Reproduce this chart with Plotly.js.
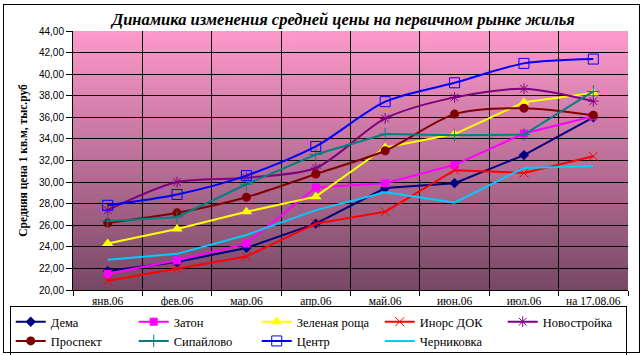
<!DOCTYPE html>
<html>
<head>
<meta charset="utf-8">
<script src="https://cdn.plot.ly/plotly-3.0.1.min.js"></script>
<style>
html,body{margin:0;padding:0;background:#fff;}
#wrap{position:relative;width:643px;height:355px;}
#chart{width:643px;height:355px;}
#frame{position:absolute;left:3px;top:4px;width:637px;height:349px;border:1px solid #000;pointer-events:none;box-sizing:border-box;}
</style>
</head>
<body>
<div id="wrap"><div id="chart"></div><div id="frame"></div></div>
<script>
const categories = ['янв.06','фев.06','мар.06','апр.06','май.06','июн.06','июл.06','на 17.08.06'];
const dema        = [21.75, 22.6, 23.9, 26.15, 29.45, 29.9, 32.5, 36.0];
const zaton       = [21.5, 22.75, 24.3, 29.5, 29.9, 31.6, 34.5, 36.1];
const zelRoscha   = [24.3, 25.65, 27.25, 28.65, 33.2, 34.45, 37.4, 38.25];
const inorsDok    = [20.85, 21.95, 23.1, 26.15, 27.25, 31.1, 30.85, 32.4];
const novostroyka = [27.4, 30.0, 30.4, 31.3, 35.9, 37.85, 38.65, 37.5];
const prospekt    = [26.2, 27.15, 28.6, 30.75, 32.9, 36.3, 36.85, 36.2];
const sipaylovo   = [26.4, 26.75, 29.8, 32.55, 34.45, 34.35, 34.4, 38.4];
const centr       = [27.85, 28.85, 30.6, 33.3, 37.45, 39.2, 41.0, 41.4];
const chernikovka = [22.8, 23.35, 25.1, 27.4, 29.05, 28.1, 31.3, 31.5];
const yTicks = [20,22,24,26,28,30,32,34,36,38,40,42,44];

function tr(name, y, color, sym, size, open, spline){
  const t = {x: categories, y: y, name: name, type:'scatter',
    mode: sym ? 'lines+markers' : 'lines',
    line:{color: color, width: 2, shape: spline ? 'spline' : 'linear', smoothing: 0.8}};
  if (sym) {
    t.marker = open ? {symbol: sym, size: size, color: color, line:{color: color, width: 1}}
                    : {symbol: sym, size: size, color: color, line:{width:0}};
  }
  return t;
}

const traces = [
  tr('Дема', dema, '#000080', 'diamond', 8, false, false),
  tr('Затон', zaton, '#FF00FF', 'square', 8, false, false),
  tr('Зеленая роща', zelRoscha, '#FFFF00', 'triangle-up', 10, false, false),
  tr('Инорс ДОК', inorsDok, '#FF0000', 'x-thin-open', 9, true, false),
  tr('Новостройка', novostroyka, '#800080', 'asterisk-open', 9, true, true),
  tr('Проспект', prospekt, '#800000', 'circle', 9, false, true),
  tr('Сипайлово', sipaylovo, '#008080', 'cross-thin-open', 9, true, false),
  tr('Центр', centr, '#0000FF', 'square-open', 10, true, true),
  tr('Черниковка', chernikovka, '#00CCFF', null, 0, false, false)
];

// gradient background image
const cv = document.createElement('canvas');
cv.width = 4; cv.height = 260;
const ctx = cv.getContext('2d');
const g = ctx.createLinearGradient(0,0,0,260);
g.addColorStop(0,'#ff99cc');
g.addColorStop(1,'#774866');
ctx.fillStyle = g; ctx.fillRect(0,0,4,260);
const bgURL = cv.toDataURL('image/png');

const layout = {
  width: 643, height: 355,
  margin: {l:73, r:15, t:31, b:65, autoexpand: false},
  paper_bgcolor: 'rgba(0,0,0,0)',
  plot_bgcolor: 'rgba(0,0,0,0)',
  separators: ', ',
  showlegend: true,
  title: {text: 'Динамика изменения средней цены на первичном рынке жилья',
    font: {family: 'Liberation Serif', size: 16.5, color: '#000', weight: 'bold', style: 'italic'},
    x: 0.534, xanchor: 'center', y: 0.945, yanchor: 'middle', yref: 'container'},
  xaxis: {
    type: 'category', range: [-0.5, 7.5], tickson: 'boundaries',
    showgrid: true, gridcolor: '#000', gridwidth: 1,
    showline: true, linecolor: '#000', linewidth: 1,
    ticks: 'outside', ticklen: 5, tickcolor: '#000',
    tickfont: {family: 'Liberation Serif', size: 11.5, color: '#000'},
    zeroline: false, fixedrange: true
  },
  yaxis: {
    range: [20, 44], tickvals: yTicks, tickformat: '.2f',
    showgrid: true, gridcolor: '#000', gridwidth: 1,
    showline: true, linecolor: '#000', linewidth: 1,
    ticks: 'outside', ticklen: 6, tickcolor: '#000',
    tickfont: {family: 'Liberation Sans', size: 10, color: '#000'},
    zeroline: false,
    title: {text: 'Средняя цена 1 кв.м, тыс.руб', standoff: 8,
      font: {family: 'Liberation Serif', size: 11.5, color: '#000', weight: 'bold'}}
  },
  legend: {
    orientation: 'h', x: -0.114, xanchor: 'left', y: -0.062, yanchor: 'top',
    bgcolor: '#fff', bordercolor: '#000', borderwidth: 1,
    font: {family: 'Liberation Serif', size: 12.5, color: '#000'},
    entrywidth: 78, entrywidthmode: 'pixels', itemwidth: 30,
    traceorder: 'normal', tracegroupgap: 0
  },
  images: [{source: bgURL, xref:'paper', yref:'paper', x:0, y:1, sizex:1, sizey:1,
    sizing:'stretch', layer:'below'}]
};

Plotly.newPlot('chart', traces, layout, {displayModeBar:false, staticPlot:true});
</script>
</body>
</html>
